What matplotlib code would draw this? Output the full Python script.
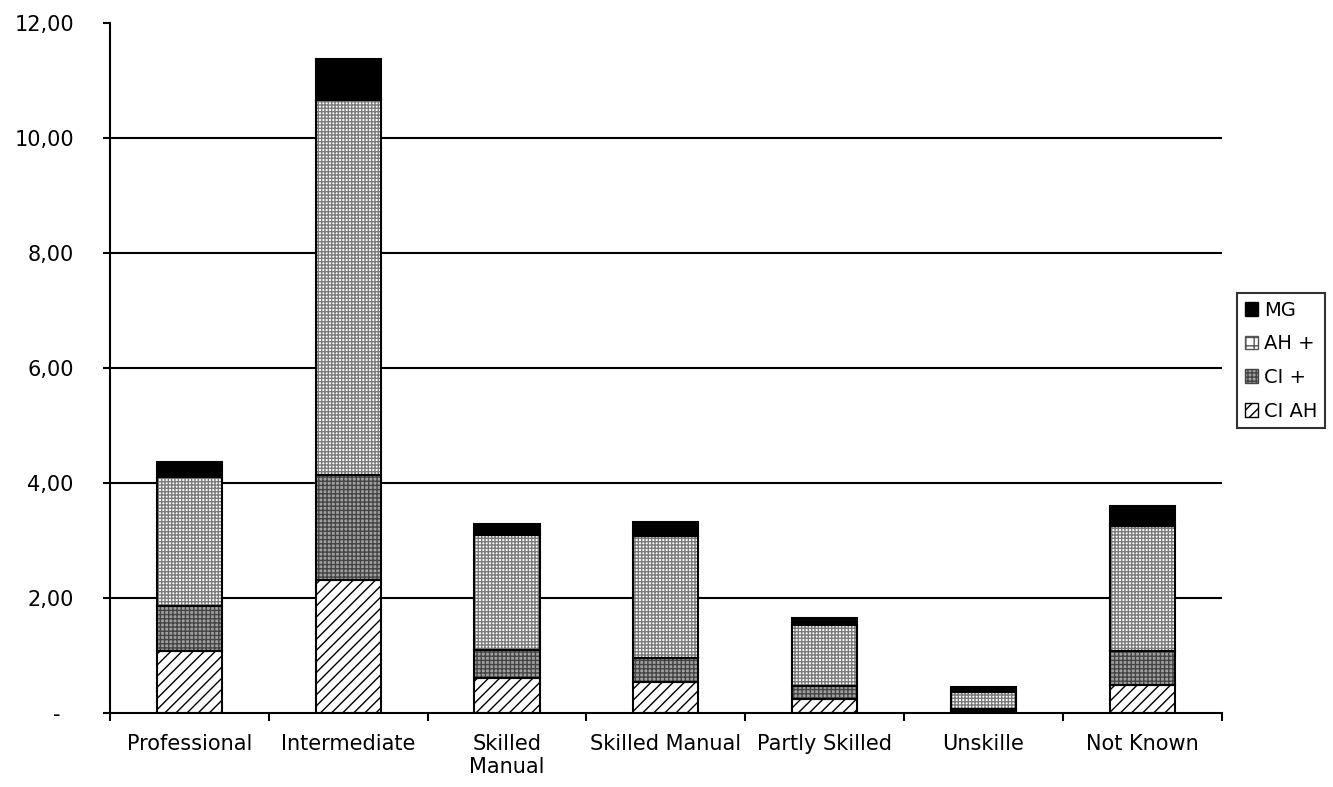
import numpy as np
import matplotlib
matplotlib.use('Agg')
import matplotlib.pyplot as plt
from matplotlib.patches import Patch

categories = ['Professional', 'Intermediate', 'Skilled\nManual', 'Skilled Manual',
              'Partly Skilled', 'Unskille', 'Not Known']
ciah = [1.08, 2.31, 0.61, 0.54, 0.24, 0.03, 0.49]
ci_plus = [0.78, 1.83, 0.49, 0.42, 0.23, 0.04, 0.59]
ah_plus = [2.25, 6.51, 2.00, 2.12, 1.06, 0.30, 2.17]
mg = [0.26, 0.72, 0.19, 0.24, 0.12, 0.08, 0.35]
yticks = [0, 2, 4, 6, 8, 10, 12]
ytick_labels = ['-  ', '2,00', '4,00', '6,00', '8,00', '10,00', '12,00']

plt.rcParams['font.family'] = ['DejaVu Sans']
plt.rcParams['hatch.linewidth'] = 1.0

fig = plt.figure(figsize=(13.33, 7.87), dpi=100)
ax = fig.add_axes((0.0825, 0.094, 0.834, 0.877))

x = np.arange(len(categories))
w = 0.41

# series: (values, face, hatch, hatch colour)
series = [
    (ciah, 'white', '///', 'black'),
    (ci_plus, '#a0a0a0', '++++', '#444444'),
    (ah_plus, 'white', '+++++', '#7a7a7a'),
    (mg, 'black', None, 'black'),
]

for yv in yticks[1:-1]:
    ax.axhline(yv, color='black', linewidth=1.5, zorder=1)

bottom = np.zeros(len(categories))
for vals, face, hatch, hcol in series:
    vals = np.array(vals)
    ax.bar(x, vals, w, bottom=bottom, color=face, hatch=hatch, edgecolor=hcol,
           linewidth=0, zorder=2)
    ax.bar(x, vals, w, bottom=bottom, fill=False, edgecolor='black',
           linewidth=1.5, zorder=3)
    bottom += vals

ax.set_xlim(-0.5, len(categories) - 0.5)
ax.set_ylim(0, 12)
ax.set_yticks(yticks)
ax.set_yticklabels(ytick_labels, fontsize=15)
ax.set_xticks(x)
ax.set_xticklabels(categories, fontsize=15, va='top', multialignment='center')
ax.set_xticks(np.arange(len(categories) + 1) - 0.5, minor=True)
ax.tick_params(axis='x', which='major', length=0, pad=15)
ax.tick_params(axis='x', which='minor', length=6, width=1.5, direction='out')
ax.tick_params(axis='y', length=5, width=1.5, direction='out', pad=21)

for s in ['top', 'right']:
    ax.spines[s].set_visible(False)
ax.spines['left'].set_linewidth(1.5)
ax.spines['bottom'].set_linewidth(1.5)

handles = [
    Patch(facecolor='black', edgecolor='black', label='MG'),
    Patch(facecolor='white', edgecolor='#555555', hatch='++', label='AH +'),
    Patch(facecolor='#a0a0a0', edgecolor='#444444', hatch='++++', label='CI +'),
    Patch(facecolor='white', edgecolor='black', hatch='///', label='CI AH'),
]
leg = fig.legend(handles=handles, loc='upper left', bbox_to_anchor=(1237 / 1333, 1 - 293 / 787),
                 fontsize=14, frameon=True, fancybox=False, edgecolor='black',
                 handlelength=0.7, handleheight=0.7, handletextpad=0.3,
                 labelspacing=0.75, borderpad=0.4, borderaxespad=0)
leg.get_frame().set_linewidth(1.5)

plt.savefig('out.png', dpi=100)
